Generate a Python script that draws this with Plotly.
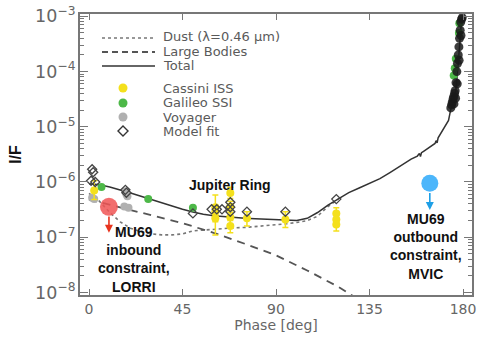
import plotly.graph_objects as go
import numpy as np

# ---------------- data ----------------
total_phase = [0, 5, 10, 15, 20, 25, 30, 35, 40, 45, 50, 55, 60, 65, 70, 75, 80, 85, 90, 95,
               100, 105, 110, 115, 120, 125, 130, 135, 140, 145, 150, 155, 158, 159, 159.5, 160,
               161, 165, 166.5, 167, 167.5, 168, 170, 172, 173, 174, 175, 176, 176.5, 177,
               177.5, 178, 178.5, 179, 179.5, 180]
total_if = [9.3e-7, 8.9e-7, 8.1e-7, 7.2e-7, 6.3e-7, 5.5e-7, 4.8e-7, 4.1e-7, 3.6e-7, 3.2e-7,
            2.85e-7, 2.6e-7, 2.45e-7, 2.35e-7, 2.25e-7, 2.2e-7, 2.15e-7, 2.1e-7, 2.1e-7, 2.05e-7,
            2.0e-7, 2.2e-7, 2.8e-7, 3.8e-7, 5.0e-7, 6.4e-7, 7.8e-7, 9.5e-7, 1.15e-6, 1.5e-6,
            2.0e-6, 2.6e-6, 2.95e-6, 3.3e-6, 2.9e-6, 3.4e-6,
            3.6e-6, 4.6e-6, 5.0e-6, 5.6e-6, 5.1e-6, 6.3e-6, 8.5e-6, 1.1e-5, 1.3e-5, 2.0e-5,
            2.8e-5, 3.8e-5, 4.5e-5, 7.0e-5, 1.1e-4, 1.8e-4, 3.5e-4, 6.5e-4, 8.5e-4, 1.0e-3]

dust_phase = [0, 5, 10, 15, 20, 25, 30, 35, 40, 45, 50, 55, 60, 65, 70, 75, 80, 85, 90, 95,
              100, 105, 110, 115, 120]
dust_if = [6.2e-7, 4.5e-7, 2.8e-7, 1.9e-7, 1.45e-7, 1.25e-7, 1.15e-7, 1.1e-7, 1.1e-7, 1.15e-7,
           1.3e-7, 1.35e-7, 1.4e-7, 1.45e-7, 1.48e-7, 1.5e-7, 1.55e-7, 1.6e-7, 1.68e-7, 1.75e-7,
           1.85e-7, 2.0e-7, 2.4e-7, 3.6e-7, 4.9e-7]

large_phase = [0, 15, 30, 45, 60, 75, 90, 105, 120, 135, 150]
large_if = [4.8e-7, 3.5e-7, 2.5e-7, 1.8e-7, 1.2e-7, 7.6e-8, 4.7e-8, 2.5e-8, 1.26e-8, 5.6e-9, 2.5e-9]

cassini_phase = [2.5, 60.8, 60.8, 60.8, 68, 68, 68, 68, 76, 94.5, 119, 119, 119]
cassini_if = [7e-7, 3.5e-7, 2.9e-7, 2.2e-7, 6.3e-7, 3.6e-7, 2.3e-7, 1.6e-7, 2.2e-7, 2.1e-7,
              2.7e-7, 2.1e-7, 1.7e-7]
cassini_hi = [1.05e-6, 5.8e-7, 3.8e-7, 3.0e-7, 8.0e-7, 4.5e-7, 3.0e-7, 2.0e-7, 2.9e-7, 2.9e-7,
              3.4e-7, 2.7e-7, 2.1e-7]
cassini_lo = [4.8e-7, 2.6e-7, 1.9e-7, 1.1e-7, 5.0e-7, 2.8e-7, 1.7e-7, 1.2e-7, 1.6e-7, 1.5e-7,
              2.1e-7, 1.6e-7, 1.3e-7]

galileo_phase = [6, 28.5, 50, 175.5, 176, 176.5, 178, 178.2]
galileo_if = [8.1e-7, 4.9e-7, 3.4e-7, 8.5e-5, 1.15e-4, 1.7e-4, 5.0e-4, 7.5e-4]

voyager_phase = [1.5, 2.5, 17.5, 18, 18.5, 17, 19]
voyager_if = [5.2e-7, 4.9e-7, 6.8e-7, 6.0e-7, 5.5e-7, 3.6e-7, 3.4e-7]

model_phase = [1.5, 2, 1, 3, 17.5, 18, 50, 59, 61.5, 64, 68, 68, 68, 76, 94.5, 119]
model_if = [1.7e-6, 1.5e-6, 1.05e-6, 1.0e-6, 7.2e-7, 6.4e-7, 2.7e-7, 3.2e-7, 3.2e-7, 3.2e-7,
            4.3e-7, 3.5e-7, 2.9e-7, 2.9e-7, 2.9e-7, 4.9e-7]

hiphase_phase = [174.1, 174.5, 174.8, 175.2, 175.5, 175.9, 176.2, 176.6, 177, 177.3, 177.7,
                 178, 178.3, 178.6, 178.9, 179.3, 179.6, 175.6, 176.4, 177.2, 178.1, 179.0]
hiphase_if = [2.2e-5, 2.5e-5, 2.8e-5, 3.2e-5, 3.5e-5, 4.0e-5, 4.5e-5, 6.3e-5, 1.0e-4, 1.4e-4,
              2.0e-4, 2.8e-4, 4.0e-4, 5.6e-4, 7.9e-4, 8.9e-4, 9.5e-4, 2.6e-5, 3.3e-5, 6.0e-5,
              1.6e-4, 4.5e-4]

mu69_in = (9.6, 3.55e-7, 1.2e-7)     # phase, I/F, arrow tip
mu69_out = (164.0, 9.5e-7, 3.1e-7)

legend_lines = ["Dust (λ=0.46 μm)", "Large Bodies", "Total"]
legend_marks = ["Cassini ISS", "Galileo SSI", "Voyager", "Model fit"]

# ---------------- colours ----------------
YEL = "#f4e01c"
GRN = "#4db848"
GRY = "#b0b0b0"
TXT = "#5a5a5a"
FONT = "DejaVu Sans"

fig = go.Figure()

fig.add_trace(go.Scatter(x=dust_phase, y=dust_if, mode="lines", name="Dust",
                         line=dict(color="#777777", width=1.6, dash="dot"), showlegend=False))
fig.add_trace(go.Scatter(x=large_phase, y=large_if, mode="lines", name="Large Bodies",
                         line=dict(color="#555555", width=1.8, dash="8px,6px"), showlegend=False))
fig.add_trace(go.Scatter(x=total_phase, y=total_if, mode="lines", name="Total",
                         line=dict(color="#333333", width=1.5), showlegend=False))

fig.add_trace(go.Scatter(x=voyager_phase, y=voyager_if, mode="markers", name="Voyager",
                         marker=dict(color=GRY, size=8), showlegend=False))
fig.add_trace(go.Scatter(x=galileo_phase, y=galileo_if, mode="markers", name="Galileo SSI",
                         marker=dict(color=GRN, size=8), showlegend=False))
fig.add_trace(go.Scatter(
    x=cassini_phase, y=cassini_if, mode="markers", name="Cassini ISS",
    marker=dict(color=YEL, size=8),
    error_y=dict(type="data", symmetric=False,
                 array=[h - v for h, v in zip(cassini_hi, cassini_if)],
                 arrayminus=[v - l for v, l in zip(cassini_if, cassini_lo)],
                 color=YEL, thickness=1.5, width=3),
    showlegend=False))
fig.add_trace(go.Scatter(x=hiphase_phase, y=hiphase_if, mode="markers", name="high phase data",
                         marker=dict(color="#1a1a1a", size=9, opacity=0.85), showlegend=False))
fig.add_trace(go.Scatter(x=model_phase, y=model_if, mode="markers", name="Model fit",
                         marker=dict(symbol="diamond-open", color="#444444", size=7,
                                     line=dict(width=1.3)), showlegend=False))

fig.add_trace(go.Scatter(x=[mu69_in[0]], y=[mu69_in[1]], mode="markers", showlegend=False,
                         marker=dict(color="rgba(240,85,85,0.85)", size=18)))
fig.add_trace(go.Scatter(x=[mu69_out[0]], y=[mu69_out[1]], mode="markers", showlegend=False,
                         marker=dict(color="#4cb6fb", size=17)))

# ---------------- layout geometry ----------------
L, R, T, B = 80, 7, 14, 53
W, H = 479, 348
PW, PH = W - L - R, H - T - B


def fx(px):
    return (px - L) / PW


def fy(py):
    return 1 - (py - T) / PH


shapes = []
ann = []

# manual legend: line samples
for py, dash, col, wd in [(38, "dot", "#777777", 1.6), (52, "6px,4px", "#555555", 1.8),
                          (66, "solid", "#333333", 1.5)]:
    shapes.append(dict(type="line", xref="paper", yref="paper", x0=fx(102), x1=fx(155),
                       y0=fy(py), y1=fy(py), line=dict(color=col, width=wd, dash=dash)))
for py, txt in zip([37, 51, 65, 88, 102.5, 117, 131.5], legend_lines + legend_marks):
    ann.append(dict(xref="paper", yref="paper", x=fx(162), y=fy(py), text=txt, showarrow=False,
                    xanchor="left", yanchor="middle", borderpad=0,
                    font=dict(family=FONT, size=13, color=TXT)))
# legend markers
for py, col in [(88, YEL), (103, GRN), (117, GRY)]:
    r = 4.5
    shapes.append(dict(type="circle", xref="paper", yref="paper", x0=fx(123 - r), x1=fx(123 + r),
                       y0=fy(py + r), y1=fy(py - r), fillcolor=col, line=dict(width=0)))
cx, cy, d = 123, 131, 5
shapes.append(dict(type="path", xref="paper", yref="paper",
                   path=f"M {fx(cx - d)} {fy(cy)} L {fx(cx)} {fy(cy - d)} L {fx(cx + d)} {fy(cy)} "
                        f"L {fx(cx)} {fy(cy + d)} Z",
                   line=dict(color="#333333", width=1.4)))

# arrows for MU69
ann.append(dict(x=mu69_in[0], y=np.log10(mu69_in[2]), ax=mu69_in[0],
                ay=np.log10(mu69_in[1]) - 0.15, axref="x", ayref="y", xref="x", yref="y",
                text="", showarrow=True, arrowhead=2, arrowsize=1, arrowwidth=1.6,
                arrowcolor="#e8341e"))
ann.append(dict(x=mu69_out[0], y=np.log10(mu69_out[2]), ax=mu69_out[0],
                ay=np.log10(mu69_out[1]) - 0.15, axref="x", ayref="y", xref="x", yref="y",
                text="", showarrow=True, arrowhead=2, arrowsize=1, arrowwidth=1.6,
                arrowcolor="#1e9fe6"))

bold = dict(family="Liberation Sans, Arial", size=14, color="#111111")
ann.append(dict(x=21.5, y=-7.41, xref="x", yref="y",
                text="<b>MU69<br>inbound<br>constraint,<br>LORRI</b>", showarrow=False,
                align="center", font=bold))
ann.append(dict(x=162.3, y=-7.16, xref="x", yref="y",
                text="<b>MU69<br>outbound<br>constraint,<br>MVIC</b>", showarrow=False,
                align="center", font=bold))
ann.append(dict(x=67.8, y=-6.05, xref="x", yref="y", text="<b>Jupiter Ring</b>",
                showarrow=False, font=bold))

axis_common = dict(showline=True, linecolor="#777777", linewidth=1.5, mirror="ticks",
                   ticks="inside", tickcolor="#777777", showgrid=False, zeroline=False,
                   automargin=False,
                   tickfont=dict(family=FONT, size=14, color="#666666"))

fig.update_layout(
    width=W, height=H, margin=dict(l=L, r=R, t=T, b=B, autoexpand=False),
    plot_bgcolor="white", paper_bgcolor="white",
    showlegend=False,
    shapes=shapes, annotations=ann,
    xaxis=dict(range=[-4.33, 184.3], tickvals=[0, 45, 90, 135, 180], ticklen=6,
               title=dict(text="Phase [deg]", font=dict(family=FONT, size=14, color="#666666"),
                          standoff=2),
               **axis_common),
    yaxis=dict(type="log", range=[-8.047, -2.957], dtick=1, exponentformat="power", ticklen=8,
               minor=dict(ticks="inside", ticklen=4, tickcolor="#777777", dtick="D1"),
               title=dict(text="<b>I/F</b>", font=dict(family="Liberation Sans, Arial", size=16,
                                                       color="#111111"), standoff=10),
               **axis_common),
)

fig.write_html("out.html", config={"displayModeBar": False},
               post_script="document.body.style.margin='0px';")
